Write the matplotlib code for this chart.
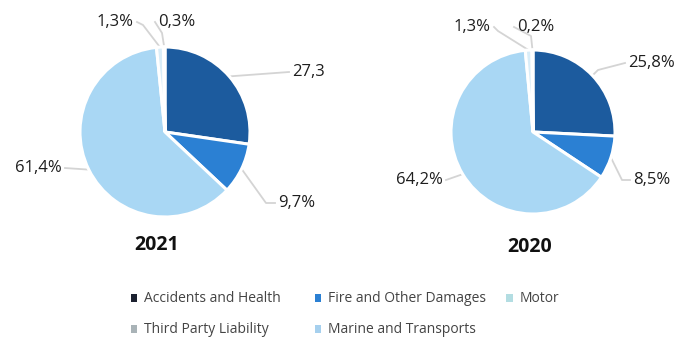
import numpy as np
import matplotlib.pyplot as plt
from matplotlib.patches import Patch

plt.rcParams['font.family'] = ['Open Sans', 'DejaVu Sans']

categories = ["Accidents and Health", "Fire and Other Damages", "Motor",
              "Third Party Liability", "Marine and Transports"]
years = ["2021", "2020"]
shares_2021 = [27.3, 9.7, 61.4, 1.3, 0.3]
shares_2020 = [25.8, 8.5, 64.2, 1.3, 0.2]
labels_2021 = ["27,3", "9,7%", "61,4%", "1,3%", "0,3%"]
labels_2020 = ["25,8%", "8,5%", "64,2%", "1,3%", "0,2%"]

pie_colors = ["#1c5b9e", "#2b80d3", "#a9d7f4", "#d9edf8", "#c3e3f6"]
legend_colors = ["#1c2130", "#2b80d3", "#b3dde2", "#a9b3b7", "#a6d0ee"]
line_color = "#d4d4d4"
text_color = "#1e1e1e"

W, H = 678, 342
fig = plt.figure(figsize=(W / 100, H / 100), dpi=100)


def px(cx, cy, r, x, y):
    # pixel position (from top-left) -> data coords of a pie axes
    return (x - cx) / r, (cy - y) / r


# label layout per pie: text anchor (px), alignment, optional elbow (px)
layout_2021 = [
    ((292, 72), "left", None),
    ((278, 203), "left", (266, 203)),
    ((62, 168), "right", None),
    ((134, 22), "right", (143, 25)),
    ((158, 22), "left", (162, 33)),
]
layout_2020 = [
    ((628, 63), "left", (598, 70)),
    ((633, 180), "left", (622, 180)),
    ((443, 180), "right", None),
    ((491, 27), "right", (498, 31)),
    ((517, 27), "left", (531, 36)),
]

pies = [
    (shares_2021, labels_2021, layout_2021, (165, 132, 85), (157, 245), (0, 339)),
    (shares_2020, labels_2020, layout_2020, (533, 132, 82), (530, 247), (339, 678)),
]

for year, (shares, labels, layout, (cx, cy, r), title_xy, (x0, x1)) in zip(years, pies):
    ax = fig.add_axes([x0 / W, 0, (x1 - x0) / W, 1])

    wedges, _ = ax.pie(shares, colors=pie_colors, startangle=90, counterclock=False,
                       radius=1, wedgeprops=dict(edgecolor='white', linewidth=2.2))
    ax.set_aspect('auto')
    ax.set_xlim((x0 - cx) / r, (x1 - cx) / r)
    ax.set_ylim((cy - H) / r, cy / r)
    ax.axis('off')

    for w, lab, (txy, ha, elbow) in zip(wedges, labels, layout):
        mid = np.deg2rad((w.theta1 + w.theta2) / 2)
        ex, ey = np.cos(mid), np.sin(mid)
        tx, ty = px(cx, cy, r, *txy)
        end_x = tx - 3 / r if ha == "left" else tx + 3 / r
        pts = [(ex, ey)]
        if elbow is not None:
            pts.append(px(cx, cy, r, *elbow))
        pts.append((end_x, ty))
        xs, ys = zip(*pts)
        ax.plot(xs, ys, color=line_color, lw=1.3, zorder=0, clip_on=False)
        ax.text(tx, ty, lab, ha=ha, va='center', fontsize=12, color=text_color)

    ttx, tty = px(cx, cy, r, *title_xy)
    ax.text(ttx, tty, year, ha='center', va='center', fontsize=14,
            fontweight='bold', color='#111111')

# legend as three fixed-width columns, one small legend per column
columns = [[0, 3], [1, 4], [2]]
col_x = [118, 302, 494]
for idx, x in zip(columns, col_x):
    handles = [Patch(facecolor=legend_colors[i], edgecolor='none') for i in idx]
    fig.legend(handles, [categories[i] for i in idx], ncol=1, frameon=False,
               loc='upper left', bbox_to_anchor=(x / W, 1 - 279 / H),
               fontsize=10, labelcolor='#444444', handlelength=0.5,
               handleheight=0.5, handletextpad=0.45, labelspacing=1.15)

fig.savefig("out.png", dpi=100, facecolor='white')
